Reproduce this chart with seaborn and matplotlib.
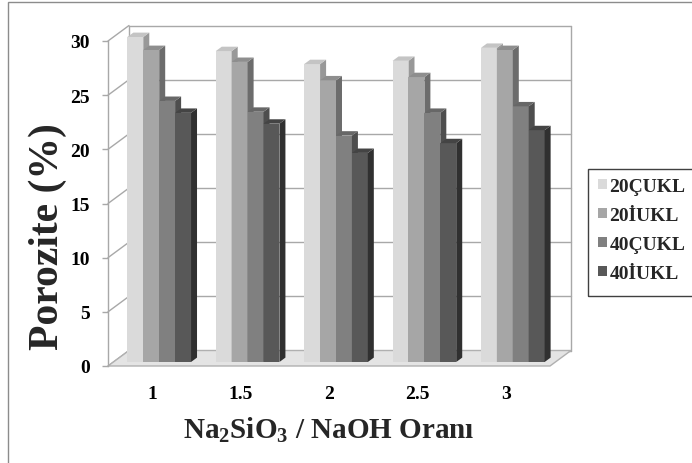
import numpy as np
import pandas as pd
import seaborn as sns
import matplotlib.pyplot as plt
from matplotlib.patches import Polygon, Rectangle
from matplotlib.lines import Line2D

# ---- data -------------------------------------------------------------
ratios = ["1", "1.5", "2", "2.5", "3"]
series = ["20ÇUKL", "20İUKL", "40ÇUKL", "40İUKL"]
v_20cukl = [30.0, 28.7, 27.5, 27.8, 29.0]
v_20iukl = [28.8, 27.7, 26.0, 26.3, 28.8]
v_40cukl = [24.1, 23.1, 20.9, 23.0, 23.6]
v_40iukl = [23.0, 22.0, 19.3, 20.2, 21.4]
y_ticks = [0, 5, 10, 15, 20, 25, 30]

df = pd.DataFrame({
    "Oran": ratios * len(series),
    "Seri": np.repeat(series, len(ratios)),
    "Porozite": v_20cukl + v_20iukl + v_40cukl + v_40iukl,
})

# ---- style ------------------------------------------------------------
sns.set_theme(style="white")
plt.rcParams["font.family"] = ["Liberation Serif", "DejaVu Serif"]
plt.rcParams["font.weight"] = "bold"
plt.rcParams["mathtext.fontset"] = "custom"
plt.rcParams["mathtext.rm"] = "Liberation Serif:bold"
plt.rcParams["mathtext.it"] = "Liberation Serif:bold"
plt.rcParams["mathtext.bf"] = "Liberation Serif:bold"

front_cols = ["#dadada", "#a6a6a6", "#808080", "#585858"]
side_cols = ["#989898", "#6c6c6c", "#4e4e4e", "#303030"]
top_cols = ["#c4c4c4", "#8e8e8e", "#676767", "#444444"]
wall_col = "#a8a8a8"

W, H = 692, 464
fig = plt.figure(figsize=(W / 100, H / 100), dpi=100)
# front floor edge spans x 108..550 px, value 0..30 spans y 367..42 px
ax = fig.add_axes([108 / W, (H - 367) / H, 442 / W, 325 / H])

sns.barplot(data=df, x="Oran", y="Porozite", hue="Seri", palette=front_cols,
            width=0.72, ax=ax, errorbar=None, saturation=1, legend=False)

ax.set_xlim(-0.5, 4.5)
ax.set_ylim(0, 30)

PX = 442 / 5      # pixels per category unit
PY = 325 / 30     # pixels per value unit
Dx, Dy = 21 / PX, 15.5 / PY          # depth of the walls
bx, by = 7 / PX, 4 / PY              # bar row position inside the depth
sx, sy = 6 / PX, 4.4 / PY            # depth of a single bar
x0, x1 = -0.5, 4.5

bars = list(ax.patches)

# ---- walls and floor --------------------------------------------------
floor = Polygon([(x0, 0), (x1, 0), (x1 + Dx, Dy), (x0 + Dx, Dy)],
                closed=True, facecolor="#e4e4e4", edgecolor="#b0b0b0",
                lw=1, clip_on=False, zorder=1)
ax.add_patch(floor)
for v in y_ticks:
    ax.add_line(Line2D([x0 + Dx, x1 + Dx], [v + Dy, v + Dy], color=wall_col,
                       lw=1, clip_on=False, zorder=0.5))
    ax.add_line(Line2D([x0, x0 + Dx], [v, v + Dy], color=wall_col,
                       lw=1, clip_on=False, zorder=0.5))
for xx in (x0 + Dx, x1 + Dx):
    ax.add_line(Line2D([xx, xx], [Dy, 30 + Dy], color=wall_col,
                       lw=1, clip_on=False, zorder=0.5))

# ---- 3D bars ----------------------------------------------------------
n_cat = len(ratios)
for i, p in enumerate(bars):
    k = i // n_cat
    x, w, h = p.get_x() + bx, p.get_width(), p.get_height()
    z = 3 + k * 0.1
    p.set_x(x)
    p.set_y(by)
    p.set_linewidth(0)
    p.set_clip_on(False)
    p.set_zorder(z)
    side = Polygon([(x + w, by), (x + w + sx, by + sy),
                    (x + w + sx, by + h + sy), (x + w, by + h)],
                   closed=True, facecolor=side_cols[k], lw=0,
                   clip_on=False, zorder=z + 0.01)
    top = Polygon([(x, by + h), (x + w, by + h),
                   (x + w + sx, by + h + sy), (x + sx, by + h + sy)],
                  closed=True, facecolor=top_cols[k], lw=0,
                  clip_on=False, zorder=z + 0.01)
    ax.add_patch(side)
    ax.add_patch(top)

# ---- axes -------------------------------------------------------------
for s in ("top", "right", "bottom"):
    ax.spines[s].set_visible(False)
ax.spines["left"].set_color(wall_col)
ax.spines["left"].set_linewidth(1)
ax.set_yticks(y_ticks)
ax.set_yticklabels([str(t) for t in y_ticks])
ax.tick_params(axis="y", length=4, width=1, color=wall_col, pad=9,
               labelsize=14, labelcolor="black", left=True)
ax.tick_params(axis="x", length=0, pad=13.5, labelsize=14, labelcolor="black")
for t in ax.get_xticklabels() + ax.get_yticklabels():
    t.set_fontweight("bold")
ax.set_xlabel("")
ax.set_ylabel("")

fig.text(48 / W, 1 - 237 / H, "Porozite (%)", rotation=90, ha="center",
         va="center", fontsize=30, fontweight="bold")
fig.text(329 / W, 1 - 430 / H, r"Na$_2$SiO$_3$ / NaOH Oranı", ha="center",
         va="center", fontsize=21, fontweight="bold")

# ---- legend -----------------------------------------------------------
handles = [Rectangle((0, 0), 1, 1, facecolor=c, edgecolor="none")
           for c in front_cols]
leg = fig.legend(handles, series, loc="upper left",
                 bbox_to_anchor=(592 / W, 1 - 173 / H), frameon=False,
                 prop={"family": "Liberation Serif", "weight": "bold",
                       "size": 14},
                 handlelength=0.45, handleheight=0.45, handletextpad=0.15,
                 labelspacing=0.62, borderpad=0.3, borderaxespad=0)
# legend box runs on past the right edge of the image
fig.add_artist(Rectangle((588 / W, 1 - 297 / H), 0.2, 127 / H,
                         transform=fig.transFigure, fill=False,
                         edgecolor="#404040", lw=1))

# outer chart frame
fig.add_artist(Rectangle((8 / W, -0.1), 1.2, 1.1 - 3 / H,
                         transform=fig.transFigure, fill=False,
                         edgecolor="#8c8c8c", lw=1))

fig.savefig("out.png", dpi=100)
